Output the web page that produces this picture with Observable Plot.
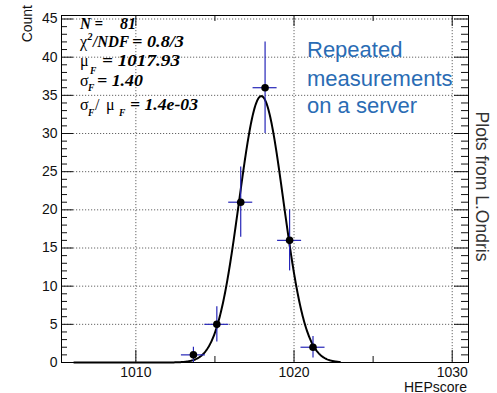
<!DOCTYPE html>
<html><head><meta charset="utf-8">
<script src="https://cdn.jsdelivr.net/npm/d3@7"></script>
<script src="https://cdn.jsdelivr.net/npm/@observablehq/plot@0.6"></script>
<style>
html,body{margin:0;padding:0;background:#fff;}
#chart{position:relative;width:497px;height:393px;overflow:hidden;}
#chart svg{display:block;}
</style></head><body><div id="chart"></div>
<script>
// ---- data ----
const binCenters = [1013.64, 1015.12, 1016.63, 1018.17, 1019.72, 1021.20];
const counts = [1, 5, 21, 36, 16, 2];
const countErrors = [1.0, 2.3, 4.6, 6.0, 4.0, 1.4];
const binHalfWidths = [0.76, 0.76, 0.76, 0.76, 0.76, 0.76];
// Gaussian fit shown on the chart (parameters as printed / read)
const fitMu = [1017.93];
const fitSigma = [1.40];
const fitPeak = [34.9];
const fitRange = [1006.1, 1022.9];
// axes
const xTicksMajor = [1010, 1020, 1030];
const xTicksMinor = [1015, 1025];
const yTicksMajor = [0, 5, 10, 15, 20, 25, 30, 35, 40, 45];
const yTicksMinor = d3.range(1, 46).filter(v => v % 5 !== 0);
const xDomain = [1005.3, 1031.03];
const yDomain = [0, 45.46];
// texts
const statN = ["N =", "81"];
const statChi = ["0.8/3"];
const statMu = ["1017.93"];
const statSigma = ["1.40"];
const statRatio = ["1.4e-03"];
const noteLines = ["Repeated", "measurements", "on a server"];
const sideNote = ["Plots from L.Ondris"];
const xTitle = ["HEPscore"];
const yTitle = ["Count"];

const points = binCenters.map((x, i) => ({x, count: counts[i], err: countErrors[i], hw: binHalfWidths[i]}));
const fitCurve = d3.range(fitRange[0], fitRange[1] + 1e-9, 0.04).map(x => ({
  x, y: fitPeak[0] * Math.exp(-0.5 * ((x - fitMu[0]) / fitSigma[0]) ** 2)
}));

const W = 497, H = 393, mL = 61, mR = 29, mT = 15, mB = 31;
const pw = W - mL - mR, ph = H - mT - mB;
const blue = "#2626b8";
const gridStyle = {stroke: "#666", strokeDasharray: "1.2,1.8", strokeWidth: 1};

const plot = Plot.plot({
  width: W, height: H,
  marginLeft: mL, marginRight: mR, marginTop: mT, marginBottom: mB,
  style: {fontFamily: "'Liberation Sans', Arial, sans-serif", fontSize: "14px", color: "#111", background: "#fff"},
  x: {domain: xDomain},
  y: {domain: yDomain},
  marks: [
    Plot.ruleY(yTicksMajor.filter(v => v > 0), {y: d => d, ...gridStyle}),
    Plot.ruleX(xTicksMajor, {x: d => d, ...gridStyle}),
    Plot.tickY(yTicksMajor, {y: d => d, insetRight: pw - 12, stroke: "#111"}),
    Plot.tickY(yTicksMajor, {y: d => d, insetLeft: pw - 14, stroke: "#111"}),
    Plot.tickY(yTicksMinor, {y: d => d, insetRight: pw - 6, stroke: "#111"}),
    Plot.tickY(yTicksMinor, {y: d => d, insetLeft: pw - 7, stroke: "#111"}),
    Plot.tickX(xTicksMajor, {x: d => d, insetTop: ph - 12, stroke: "#111"}),
    Plot.tickX(xTicksMajor, {x: d => d, insetBottom: ph - 11, stroke: "#111"}),
    Plot.tickX(xTicksMinor, {x: d => d, insetTop: ph - 6, stroke: "#111"}),
    Plot.tickX(xTicksMinor, {x: d => d, insetBottom: ph - 6, stroke: "#111"}),
    Plot.axisY(yTicksMajor, {tickSize: 0, tickPadding: 4, fontSize: 14, label: null, tickFormat: d3.format("d")}),
    Plot.axisX(xTicksMajor, {tickSize: 0, tickPadding: 5, fontSize: 14, label: null, tickFormat: d3.format("d")}),
    Plot.line(fitCurve, {x: "x", y: "y", stroke: "black", strokeWidth: 2}),
    Plot.ruleY(points, {y: "count", x1: d => d.x - d.hw, x2: d => d.x + d.hw, stroke: blue, strokeWidth: 1.2}),
    Plot.ruleX(points, {x: "x", y1: d => Math.max(0, d.count - d.err), y2: d => d.count + d.err, stroke: blue, strokeWidth: 1.2}),
    Plot.dot(points, {x: "x", y: "count", r: 3.8, fill: "black"}),
    Plot.frame({stroke: "black", strokeWidth: 1})
  ]
});
document.getElementById("chart").appendChild(plot);

const svg = d3.select(plot);
const g = svg.append("g").attr("text-anchor", "start");
const serif = "'Liberation Serif', 'Times New Roman', serif";
function seg(x, y, text, opts = {}) {
  const t = g.append("text").attr("x", x).attr("y", y).text(text)
    .attr("text-anchor", "start")
    .attr("font-family", serif)
    .attr("font-size", opts.size || 16)
    .attr("font-weight", opts.plain ? "normal" : "bold")
    .attr("font-style", opts.plain ? "normal" : "italic")
    .attr("fill", "#000");
  if (opts.len) t.attr("textLength", opts.len).attr("lengthAdjust", "spacingAndGlyphs");
  return t;
}
// stats box
seg(80, 29, statN[0], {len: 23});
seg(120, 29, statN[1], {len: 16});
seg(80, 47, "\u03c7", {plain: true, size: 16});
seg(87.5, 40, "2", {size: 10});
seg(93, 47, "/NDF", {len: 36});
seg(132, 47, "= " + statChi[0], {len: 52});
seg(80, 66, "\u03bc", {plain: true, size: 16});
seg(90, 74, "F", {size: 9.5});
seg(102, 66, "= " + statMu[0], {len: 78});
seg(80, 86, "\u03c3", {plain: true, size: 16});
seg(88, 91, "F", {size: 9.5});
seg(97, 86, "= " + statSigma[0], {len: 46});
seg(80, 110, "\u03c3", {plain: true, size: 16});
seg(88, 116, "F", {size: 9.5});
seg(95, 110, "/", {plain: true, size: 16});
seg(106, 110, "\u03bc", {plain: true, size: 16});
seg(119, 116, "F", {size: 9.5});
seg(130, 110, "= " + statRatio[0], {len: 68});

// blue note
const noteY = [57, 86, 113];
noteLines.forEach((s, i) => {
  g.append("text").attr("x", 307).attr("y", noteY[i]).text(s)
    .attr("text-anchor", "start")
    .attr("font-family", "'Liberation Sans', Arial, sans-serif")
    .attr("font-size", 22).attr("fill", "#2a6cb4");
});
// side note
g.append("text").attr("transform", "translate(476,186.5) rotate(90)")
  .attr("text-anchor", "middle").text(sideNote[0])
  .attr("font-family", "'Liberation Sans', Arial, sans-serif")
  .attr("font-size", 17.5).attr("fill", "#333");
// axis titles (the reference shows the x title clipped at the bottom edge)
g.append("text").attr("x", 467).attr("y", 392).attr("text-anchor", "end").text(xTitle[0])
  .attr("font-family", "'Liberation Sans', Arial, sans-serif").attr("font-size", 14).attr("fill", "#111");
g.append("text").attr("transform", "translate(32,5) rotate(-90)").attr("text-anchor", "end").text(yTitle[0])
  .attr("font-family", "'Liberation Sans', Arial, sans-serif").attr("font-size", 14).attr("fill", "#111");
</script>
</body></html>
